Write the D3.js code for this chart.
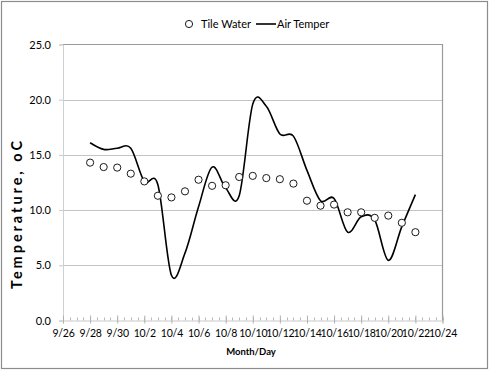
<!DOCTYPE html>
<html>
<head>
<meta charset="utf-8">
<script src="https://cdn.jsdelivr.net/npm/d3@7"></script>
<style>
  body { margin: 0; background: #fff; }
  text { font-family: Lato, "Open Sans", sans-serif; fill: #000; }
</style>
</head>
<body>
<div id="chart"></div>
<script>
// values
let days = ['9/28','9/29','9/30','10/1','10/2','10/3','10/4','10/5','10/6','10/7','10/8','10/9','10/10',
            '10/11','10/12','10/13','10/14','10/15','10/16','10/17','10/18','10/19','10/20','10/21','10/22'];
let tileWater = [14.3,13.9,13.85,13.3,12.6,11.3,11.15,11.7,12.75,12.2,12.25,13.0,13.1,
                 12.9,12.8,12.4,10.85,10.4,10.5,9.8,9.8,9.3,9.5,8.85,8.0];
let airTemp = [16.1,15.5,15.6,15.6,12.6,12.3,4.1,6.1,10.3,13.9,12.0,11.3,19.6,
               19.4,16.9,16.7,13.6,10.85,11.05,8.0,9.4,9.1,5.45,8.5,11.4];
let xTicks = ['9/26','9/28','9/30','10/2','10/4','10/6','10/8','10/10','10/12','10/14','10/16','10/18','10/20','10/22','10/24'];
let yTicks = [0, 5, 10, 15, 20, 25];

let W = 490, H = 372;
let m = {left: 63, right: 47.5, top: 44.5, bottom: 51.5};

let toDate = (s) => {
    let p = s.split('/');
    return new Date(2013, +p[0] - 1, +p[1]);
};

let svg = d3.select('#chart')
            .append('svg')
            .attr('width', W)
            .attr('height', H)

// outer frame
svg.append('rect')
    .attr('x', 1.5).attr('y', 1.5)
    .attr('width', 486).attr('height', 367)
    .attr('fill', '#fff')
    .attr('stroke', '#8c8c8c')
    .attr('stroke-width', 1.2)

let x = d3.scaleTime()
    .domain([toDate('9/26'), toDate('10/24')])
    .range([m.left, W - m.right])
let y = d3.scaleLinear()
    .domain([0, 25])
    .range([H - m.bottom, m.top])

// grid lines
svg.append('g')
    .selectAll('line')
    .data(yTicks.filter(d => d > 0 && d < 25))
    .enter()
    .append('line')
    .attr('x1', m.left).attr('x2', W - m.right)
    .attr('y1', d => Math.round(y(d)) + 0.5).attr('y2', d => Math.round(y(d)) + 0.5)
    .attr('stroke', '#c4c4c4')

// plot border: top and right
svg.append('path')
    .attr('d', `M${m.left},${m.top}H${W - m.right}V${H - m.bottom}`)
    .attr('fill', 'none')
    .attr('stroke', '#9a9a9a')
    .attr('stroke-width', 1.2)

// y axis
let yAxis = svg.append('g')
    .attr('transform', `translate(${m.left},0)`)
    .call(d3.axisLeft(y).tickValues(yTicks).tickFormat(d3.format('.1f')).tickSize(4).tickPadding(8))
yAxis.select('.domain').attr('stroke', '#d0d0d0')
yAxis.selectAll('.tick line').attr('stroke', '#c8c8c8')
yAxis.selectAll('text').style('font-size', '11px').attr('fill', '#000')

// x axis: minor ticks every half day
let halfDays = d3.timeHour.every(12).range(x.domain()[0], d3.timeHour.offset(x.domain()[1], 1));
svg.append('g')
    .selectAll('line')
    .data(halfDays)
    .enter()
    .append('line')
    .attr('x1', d => Math.round(x(d)) + 0.5).attr('x2', d => Math.round(x(d)) + 0.5)
    .attr('y1', H - m.bottom - 3).attr('y2', H - m.bottom)
    .attr('stroke', '#b8b8b8')

let xAxis = svg.append('g')
    .attr('transform', `translate(0,${H - m.bottom})`)
    .call(d3.axisBottom(x).tickValues(xTicks.map(toDate)).tickFormat(d3.timeFormat('%-m/%-d')).tickSize(3).tickPadding(6))
xAxis.select('.domain').attr('stroke', '#c8c8c8')
xAxis.selectAll('.tick line').attr('y1', -5).attr('stroke', '#b0b0b0')
xAxis.selectAll('text').style('font-size', '10.5px').style('letter-spacing', '-0.2px').attr('fill', '#000')

// air temperature, smoothed line
let line = d3.line()
    .x((d, i) => x(toDate(days[i])))
    .y(d => y(d))
    .curve(d3.curveCardinal.tension(0))
svg.append('path')
    .datum(airTemp)
    .attr('d', line)
    .attr('fill', 'none')
    .attr('stroke', '#000')
    .attr('stroke-width', 1.6)

// tile water markers
svg.append('g')
    .selectAll('circle')
    .data(tileWater)
    .enter()
    .append('circle')
    .attr('cx', (d, i) => x(toDate(days[i])))
    .attr('cy', d => y(d))
    .attr('r', 3.6)
    .attr('fill', '#fff')
    .attr('stroke', '#1a1a1a')
    .attr('stroke-width', 1)

// legend
let lg = svg.append('g')
lg.append('circle')
    .attr('cx', 189).attr('cy', 24).attr('r', 3.6)
    .attr('fill', '#fff').attr('stroke', '#1a1a1a').attr('stroke-width', 1)
lg.append('text')
    .attr('x', 201).attr('y', 28)
    .style('font-size', '11px')
    .text('Tile Water')
lg.append('line')
    .attr('x1', 256).attr('x2', 276).attr('y1', 24).attr('y2', 24)
    .attr('stroke', '#000').attr('stroke-width', 1.6)
lg.append('text')
    .attr('x', 277).attr('y', 28)
    .style('font-size', '11px')
    .text('Air Temper')

// axis titles
svg.append('text')
    .attr('transform', 'translate(22,215) rotate(-90)')
    .attr('text-anchor', 'middle')
    .attr('textLength', 148)
    .attr('lengthAdjust', 'spacing')
    .style('font-size', '14.5px')
    .style('font-weight', 'bold')
    .text('Temperature, oC')
svg.append('text')
    .attr('x', 251).attr('y', 355)
    .attr('text-anchor', 'middle')
    .style('font-size', '9.5px')
    .style('font-weight', 'bold')
    .text('Month/Day')
</script>
</body>
</html>
